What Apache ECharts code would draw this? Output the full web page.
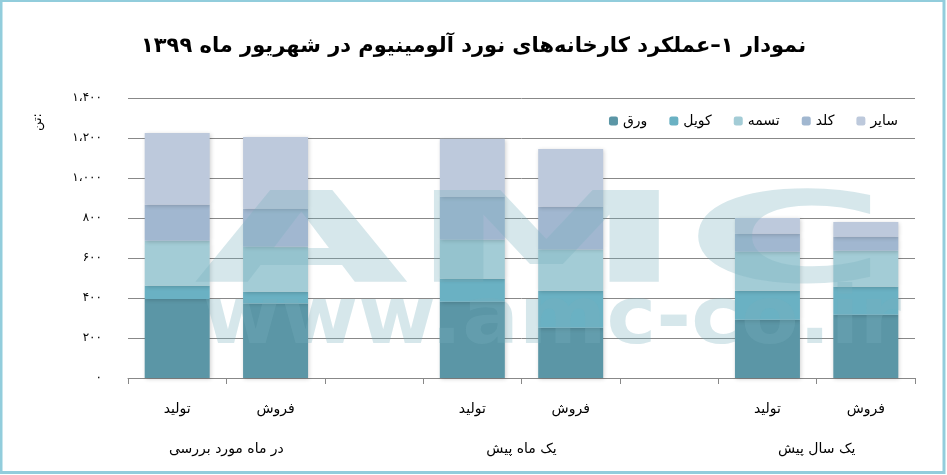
<!DOCTYPE html>
<html><head><meta charset="utf-8">
<script src="https://cdn.jsdelivr.net/npm/echarts@6/dist/echarts.min.js"></script>
<style>html,body{margin:0;padding:0;background:#fff}#c{width:947px;height:475px}</style>
</head><body><div id="c"></div>
<script>
const categories = ['تولید','فروش','','تولید','فروش','','تولید','فروش'];
const groupLabels = ['','در ماه مورد بررسی','','','یک ماه پیش','','','یک سال پیش',''];
const seriesNames = ['ورق','کویل','تسمه','کلد','سایر'];
const varagh = [395, 373, null, 381, 251, null, 291, 316];
const koil   = [66, 58, null, 115, 185, null, 145, 140];
const tasmeh = [225, 225, null, 195, 207, null, 195, 180];
const kold   = [180, 190, null, 215, 213, null, 90, 70];
const sayer  = [359, 359, null, 290, 289, null, 79, 74];
const yTicks = [0, 200, 400, 600, 800, 1000, 1200, 1400];
const colors = ['#5B96A6','#6AB1C3','#A3CCD6','#A1B7D0','#BDC9DC'];

const faDigits = '۰۱۲۳۴۵۶۷۸۹';
function toFa(n){
  const s = String(n).replace(/\B(?=(\d{3})+(?!\d))/g, '،');
  return s.replace(/\d/g, d => faDigits[+d]);
}
const FONT = '"DejaVu Sans"';
const values = [varagh, koil, tasmeh, kold, sayer];
const chart = echarts.init(document.getElementById('c'));
chart.setOption({
  animation:false,
  textStyle:{fontFamily:FONT},
  title:{text:'نمودار ۱–عملکرد کارخانه‌های نورد آلومینیوم در شهریور ماه ۱۳۹۹', left:'center', top:31,
    textStyle:{fontFamily:FONT, fontSize:21, fontWeight:'bold', color:'#000'}},
  legend:{data:seriesNames, right:44, top:109, itemWidth:9, itemHeight:9, itemGap:22,
    textStyle:{fontFamily:FONT, fontSize:14, color:'#000'}},
  grid:{left:128, right:32, top:98, bottom:97},
  xAxis:[{type:'category', data:categories,
    axisLine:{lineStyle:{color:'#888'}}, axisTick:{show:true, interval:0, length:6, lineStyle:{color:'#888'}},
    axisLabel:{interval:0, margin:24, fontSize:14, color:'#000', fontFamily:FONT}},
   {type:'category', data:groupLabels, boundaryGap:false, position:'bottom', offset:40,
    axisLine:{show:false}, axisTick:{show:false},
    axisLabel:{interval:0, margin:24, fontSize:14, color:'#000', fontFamily:FONT}}],
  yAxis:{type:'value', min:yTicks[0], max:yTicks[yTicks.length-1], interval:200,
    axisLine:{show:false}, axisTick:{show:false},
    splitLine:{lineStyle:{color:'#888'}},
    axisLabel:{margin:26, fontSize:12, color:'#000', fontFamily:FONT, formatter:v=>toFa(v)}},
  series: seriesNames.map((n,i)=>({name:n, type:'bar', stack:'s', data:values[i], barWidth:65,
    itemStyle:{color:colors[i], shadowBlur:4, shadowColor:'rgba(0,0,0,0.18)', shadowOffsetX:1, shadowOffsetY:1}})),
  graphic:[
    {type:'rect', shape:{x:1, y:0.5, width:943, height:472}, style:{fill:'none', stroke:'#92CDDC', lineWidth:3}, z:200},
    {type:'text', x:38, y:122, rotation:Math.PI/2, style:{text:'تن:', font:'13px '+FONT, fill:'#000', textAlign:'center', textVerticalAlign:'middle'}, z:50},
    {type:'text', x:194, y:186, scaleX:2.2, style:{text:'AMC', font:'bold 126px '+FONT, fill:'rgba(120,175,190,0.3)', textVerticalAlign:'top'}, z:100},
    {type:'text', x:203, y:282, scaleX:1.05, style:{text:'www.amc-co.ir', font:'bold 80px '+FONT, fill:'rgba(120,175,190,0.3)', textVerticalAlign:'top'}, z:100}
  ]
});
</script></body></html>
